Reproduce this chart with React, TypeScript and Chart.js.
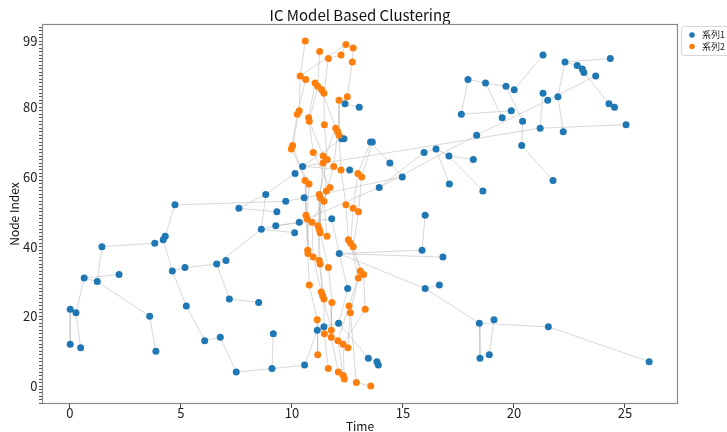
import React, { useEffect, useRef } from "react";
import { Chart, registerables } from "chart.js";

Chart.register(...registerables);

const titleText = "IC Model Based Clustering";
const xTitle = "Time";
const yTitle = "Node Index";
const seriesLabels = ["系列1", "系列2"];
const xTickValues = [0, 5, 10, 15, 20, 25];
const yMajorTicks = [0, 20, 40, 60, 80, 99];

// Series 1 (blue) nodes
const blueNames = [
  "L52","L51","L55","L53","L50","L46","L45","L43","L42","L41",
  "L40","L36","L35","L34","L33","L32","L31","L30","L25","L24",
  "L23","L22","L21","L20","L15","L14","L13","L12","L11","L10",
  "L5","L4",
  "C54","C47","C44","C48","C38","C49","C39","C37","C28","D28",
  "C29","C18","C17","C16","C6","C8","C7","D6","C81","C80",
  "C71","C71b","C70","C70b","C63","C61","C62","C64","C60","C57",
  "C67","C68",
  "R95","R94","R93","R92","R91","R90","R89","R88","R87","R86",
  "R85","R84","R83","R82","R81","R80","R79","R78","R77","R76",
  "R75","R74","R73","R72","R69","R66","R65","R58","R56","R59",
  "R18","R19","R17","R8","R9","R7",
];
const blueTime = [
  4.73, 7.61, 8.82, 9.72, 9.32, 9.27, 8.62, 4.29, 4.20, 3.82,
  1.44, 7.03, 6.61, 5.18, 4.61, 2.21, 0.64, 1.23, 7.18, 8.50,
  5.24, 0.01, 0.27, 3.59, 9.16, 6.77, 6.07, 0.01, 0.48, 3.87,
  9.10, 7.49,
  10.55, 10.33, 10.12, 11.79, 12.13, 16.0, 15.86, 16.80, 12.51, 16.0,
  16.64, 12.10, 11.44, 11.14, 10.57, 13.44, 13.83, 13.89, 12.39, 13.03,
  12.24, 12.34, 13.54, 13.62, 10.48, 10.14, 12.6, 14.41, 14.97, 13.93,
  15.95, 16.49,
  21.31, 24.34, 22.30, 22.85, 23.08, 23.15, 23.68, 17.93, 18.72, 19.64,
  20.01, 21.31, 21.98, 21.52, 24.28, 24.53, 19.88, 17.63, 19.47, 20.39,
  25.05, 21.18, 22.22, 18.32, 20.35, 17.07, 18.17, 17.09, 18.6, 21.76,
  18.44, 19.1, 21.55, 18.47, 18.89, 26.09,
];
const blueNode = [
  52, 51, 55, 53, 50, 46, 45, 43, 42, 41,
  40, 36, 35, 34, 33, 32, 31, 30, 25, 24,
  23, 22, 21, 20, 15, 14, 13, 12, 11, 10,
  5, 4,
  54, 47, 44, 48, 38, 49, 39, 37, 28, 28,
  29, 18, 17, 16, 6, 8, 7, 6, 81, 80,
  71, 71, 70, 70, 63, 61, 62, 64, 60, 57,
  67, 68,
  95, 94, 93, 92, 91, 90, 89, 88, 87, 86,
  85, 84, 83, 82, 81, 80, 79, 78, 77, 76,
  75, 74, 73, 72, 69, 66, 65, 58, 56, 59,
  18, 19, 17, 8, 9, 7,
];

// Series 2 (orange) nodes
const orangeNode = [
  99, 98, 97, 96, 95, 94, 93,
  89, 88, 87, 86, 85, 84, 83, 82,
  79, 78, 77, 76, 75, 74, 73, 72,
  69, 68, 67, 66, 65, 64, 63, 62, 61, 60,
  59, 58, 57, 56, 55, 54, 53, 52, 51, 50,
  49, 48, 47, 46, 45, 44, 43, 42, 41, 40,
  39, 38, 37, 36, 35, 34, 33, 32, 31,
  29, 27, 26, 25, 24, 23, 22, 21,
  19, 16, 15, 14, 13, 12, 11,
  9, 5, 4, 3, 2, 1, 0,
];
const orangeTime = [
  10.60, 12.43, 12.76, 11.25, 12.21, 11.64, 12.72,
  10.37, 10.62, 11.04, 11.16, 11.34, 11.44, 12.49, 12.12,
  10.33, 10.24, 10.75, 10.78, 11.46, 11.97, 12.06, 12.12,
  10.03, 9.97, 10.96, 11.41, 11.59, 11.40, 11.88, 12.21, 12.97, 13.14,
  10.59, 10.77, 11.71, 11.55, 11.23, 11.27, 11.44, 12.43, 12.76, 13.00,
  10.63, 10.68, 10.90, 11.17, 11.23, 11.27, 11.58, 12.54, 12.64, 12.76,
  10.71, 10.72, 10.96, 11.23, 11.27, 11.64, 13.08, 13.23, 12.99,
  10.78, 11.32, 11.38, 11.44, 11.80, 12.57, 13.30, 12.63,
  11.14, 11.77, 11.46, 11.77, 12.07, 12.30, 12.52,
  11.16, 11.64, 12.09, 12.31, 12.36, 12.90, 13.55,
];

// Cascade edges (pairs of node names; orange nodes are "O" + index)
const blueEdges: [string, string][] = [
  ["L52","L53"],["L51","L50"],["L51","L55"],["L55","L45"],["L45","L46"],["L45","L35"],
  ["L35","L36"],["L35","L34"],["L34","L33"],["L52","L43"],["L43","L42"],["L42","L33"],
  ["L41","L40"],["L41","L42"],["L40","L30"],["L30","L31"],["L31","L32"],["L30","L20"],
  ["L20","L10"],["L31","L21"],["L21","L22"],["L22","L12"],["L21","L11"],["L33","L23"],
  ["L23","L13"],["L13","L14"],["L14","L4"],["L4","L5"],["L5","L15"],["L5","C6"],
  ["L35","L25"],["L25","L24"],["L55","C61"],["L46","C47"],["L45","C44"],["L46","C48"],
  ["L53","C54"],
  ["C81","C80"],["C71","C63"],["C71","C71b"],["C70","C64"],["C70","C70b"],["C64","C60"],
  ["C62","C63"],["C67","C68"],["C68","R66"],["C68","R58"],["C67","C57"],["C57","C47"],
  ["C57","R72"],["R72","R82"],["R82","R89"],["C63","R74"],["C54","C60"],["C38","C48"],
  ["C38","C39"],["C39","C49"],["C38","C37"],["C38","C28"],["C38","D28"],["D28","C29"],
  ["D28","R18"],["C28","C18"],["C18","C17"],["C17","C16"],["C16","C6"],["C18","C8"],
  ["C8","C7"],["C7","D6"],
  ["R95","R85"],["R94","R93"],["R93","R92"],["R92","R91"],["R91","R90"],["R90","R81"],
  ["R81","R80"],["R93","R83"],["R83","R73"],["R88","R87"],["R87","R86"],["R88","R78"],
  ["R78","R79"],["R87","R77"],["R86","R76"],["R76","R69"],["R69","R59"],["R66","R65"],
  ["R66","R56"],["R84","R74"],["R74","R75"],["R18","R8"],["R8","R9"],["R9","R19"],
  ["R18","R17"],["R17","R7"],
];
const crossEdges: [string, string][] = [
  ["C81","O82"],["C70b","O60"],["C70","O61"],["O72","C71"],
];
const orangeEdges: [string, string][] = [
  ["O99","O89"],["O89","O98"],["O98","O97"],["O98","O95"],["O95","O94"],["O97","O93"],
  ["O96","O86"],["O94","O84"],["O93","O83"],["O83","O82"],["O82","O72"],["O89","O79"],
  ["O88","O78"],["O87","O77"],["O86","O76"],["O84","O75"],["O85","O74"],["O89","O88"],
  ["O79","O69"],["O78","O68"],["O77","O67"],["O76","O66"],["O75","O65"],["O74","O64"],
  ["O73","O63"],["O72","O62"],["O72","O73"],
  ["O69","O59"],["O68","O58"],["O67","O57"],["O66","O56"],["O65","O55"],["O64","O54"],
  ["O63","O53"],["O62","O52"],["O61","O51"],["O60","O50"],
  ["O59","O49"],["O58","O48"],["O57","O47"],["O56","O46"],["O55","O45"],["O54","O44"],
  ["O53","O43"],["O52","O42"],["O51","O41"],["O50","O40"],
  ["O49","O39"],["O48","O38"],["O47","O37"],["O46","O36"],["O45","O35"],["O44","O34"],
  ["O42","O32"],["O41","O31"],["O40","O33"],
  ["O39","O29"],["O37","O27"],["O36","O26"],["O35","O25"],["O34","O24"],["O33","O23"],
  ["O32","O22"],["O31","O21"],
  ["O29","O19"],["O26","O16"],["O25","O15"],["O24","O14"],["O23","O13"],["O22","O12"],
  ["O21","O11"],["O21","O1"],
  ["O19","O9"],["O15","O5"],["O14","O4"],["O13","O3"],["O12","O2"],["O1","O0"],
];

const BLUE = "#1f77b4";
const ORANGE = "#ff7f0e";
const X_MIN = -1.26;
const X_MAX = 27.39;
const Y_MIN = -5.16;
const Y_MAX = 103.9;

const framePlugin = {
  id: "frame",
  afterDraw(chart: any) {
    const { ctx, chartArea } = chart;
    ctx.save();
    ctx.strokeStyle = "#8a8a8a";
    ctx.lineWidth = 1.2;
    ctx.strokeRect(
      chartArea.left + 0.5,
      chartArea.top + 0.5,
      chartArea.right - chartArea.left - 1,
      chartArea.bottom - chartArea.top - 1
    );
    // legend
    const bx = 681.5, by = 26.5;
    ctx.strokeStyle = "#d6d6d6";
    ctx.lineWidth = 1;
    ctx.beginPath();
    if (ctx.roundRect) ctx.roundRect(bx, by, 60, 29, 3);
    else ctx.rect(bx, by, 60, 29);
    ctx.stroke();
    const colors = [BLUE, ORANGE];
    ctx.font = '9px "Noto Sans CJK JP", "Noto Sans CJK SC", sans-serif';
    ctx.textBaseline = "middle";
    ctx.textAlign = "left";
    seriesLabels.forEach((lab, i) => {
      const cy = 35 + i * 11.5;
      ctx.fillStyle = colors[i];
      ctx.beginPath();
      ctx.arc(692, cy, 2.8, 0, Math.PI * 2);
      ctx.fill();
      ctx.fillStyle = "#222";
      ctx.fillText(lab, 702, cy);
    });
    ctx.restore();
  },
};

export default function App() {
  const ref = useRef<HTMLCanvasElement | null>(null);

  useEffect(() => {
    if (!ref.current) return;
    const pos: Record<string, { x: number; y: number }> = {};
    blueNames.forEach((n, i) => (pos[n] = { x: blueTime[i], y: blueNode[i] }));
    orangeNode.forEach((n, i) => (pos["O" + n] = { x: orangeTime[i], y: n }));

    const edgeData: any[] = [];
    [...blueEdges, ...crossEdges, ...orangeEdges].forEach(([a, b]) => {
      const p = pos[a], q = pos[b];
      if (!p || !q) return;
      edgeData.push({ x: p.x, y: p.y }, { x: q.x, y: q.y }, { x: q.x, y: null });
    });

    const blueData = blueTime.map((t, i) => ({ x: t, y: blueNode[i] }));
    const orangeData = orangeTime.map((t, i) => ({ x: t, y: orangeNode[i] }));

    const font = '"Noto Sans CJK JP", "Noto Sans", sans-serif';

    const chart = new Chart(ref.current, {
      type: "scatter",
      data: {
        datasets: [
          {
            label: "edges",
            data: edgeData,
            showLine: true,
            spanGaps: false,
            borderColor: "rgba(190,190,190,0.6)",
            borderWidth: 1,
            pointRadius: 0,
            pointHoverRadius: 0,
            order: 10,
          } as any,
          {
            label: seriesLabels[0],
            data: blueData,
            backgroundColor: BLUE,
            borderColor: BLUE,
            borderWidth: 0,
            pointRadius: 3.5,
            order: 2,
          },
          {
            label: seriesLabels[1],
            data: orangeData,
            backgroundColor: ORANGE,
            borderColor: ORANGE,
            borderWidth: 0,
            pointRadius: 3.5,
            order: 1,
          },
        ],
      },
      options: {
        responsive: false,
        animation: false,
        devicePixelRatio: 1,
        layout: { padding: { left: 0, right: 49, top: 0, bottom: 0 } },
        plugins: {
          legend: { display: false },
          tooltip: { enabled: false },
          title: {
            display: true,
            text: titleText,
            fullSize: false,
            color: "#111",
            font: { family: font, size: 15, weight: "normal", lineHeight: 1.2 },
            padding: { top: 6, bottom: 0 },
          },
        },
        scales: {
          x: {
            type: "linear",
            min: X_MIN,
            max: X_MAX,
            afterBuildTicks: (s: any) => {
              s.ticks = xTickValues.map((v) => ({ value: v }));
            },
            afterFit: (s: any) => {
              s.height = 28;
            },
            ticks: {
              autoSkip: false,
              padding: -3,
              color: "#222",
              font: { family: font, size: 13 },
            },
            grid: {
              display: true,
              drawOnChartArea: false,
              drawTicks: true,
              tickLength: 4,
              color: "#444",
            },
            border: { display: false },
            title: {
              display: true,
              text: xTitle,
              color: "#111",
              font: { family: font, size: 12, lineHeight: 1 },
              padding: { top: 0, bottom: 0 },
            },
          },
          y: {
            type: "linear",
            min: Y_MIN,
            max: Y_MAX,
            afterBuildTicks: (s: any) => {
              const t: any[] = [];
              for (let v = -5; v <= 103; v++) t.push({ value: v });
              s.ticks = t;
            },
            afterFit: (s: any) => {
              s.width = 42;
            },
            ticks: {
              autoSkip: false,
              padding: 1.5,
              color: "#222",
              font: { family: font, size: 13 },
              callback: (v: any) => (yMajorTicks.includes(Number(v)) ? String(v) : ""),
            },
            grid: {
              display: true,
              drawOnChartArea: false,
              drawTicks: true,
              tickLength: 3,
              color: "#555",
            },
            border: { display: false },
            title: {
              display: true,
              text: yTitle,
              color: "#111",
              font: { family: font, size: 12, lineHeight: 1.2 },
              padding: { top: 7, bottom: 0 },
            },
          },
        },
      },
      plugins: [framePlugin],
    } as any);

    return () => chart.destroy();
  }, []);

  return (
    <div style={{ position: "absolute", left: 0, top: 0, width: 727, height: 432, background: "#fff" }}>
      <canvas ref={ref} width={727} height={432} style={{ display: "block" }} />
    </div>
  );
}
